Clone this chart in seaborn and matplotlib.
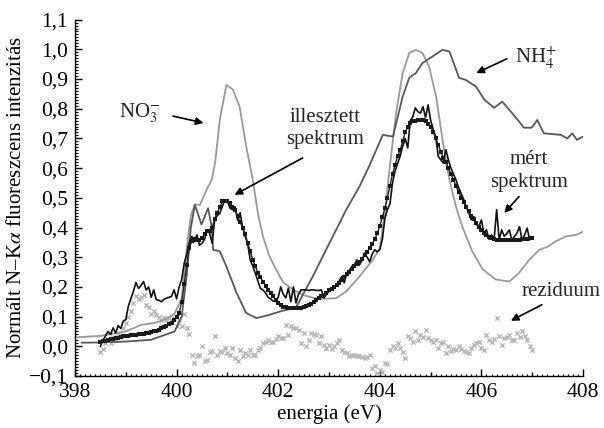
import numpy as np
import pandas as pd
import matplotlib
matplotlib.use("Agg")
import matplotlib.pyplot as plt
from matplotlib.ticker import MultipleLocator, FuncFormatter, FixedLocator, NullFormatter
import seaborn as sns

# ---------------- data ----------------
# energy grid of the measured spectrum, fit and residual (398.5 ... 407.0 eV, 0.05 eV step)
energy = np.round(np.linspace(398.5, 407.0, 171), 2)

measured = [
    0.00, 0.02, 0.035, 0.05, 0.04, 0.062, 0.045, 0.07, 0.06, 0.085,
    0.09, 0.135, 0.16, 0.185, 0.215, 0.195, 0.205, 0.218, 0.19, 0.20,
    0.165, 0.19, 0.157, 0.155, 0.150, 0.158, 0.162, 0.165, 0.168, 0.19,
    0.16, 0.20, 0.225, 0.28, 0.31, 0.35, 0.37, 0.353, 0.375, 0.34,
    0.347, 0.36, 0.392, 0.38, 0.347, 0.426, 0.44, 0.448, 0.47, 0.493,
    0.49, 0.465, 0.46, 0.47, 0.425, 0.45, 0.40, 0.37, 0.345, 0.29,
    0.27, 0.245, 0.22, 0.195, 0.19, 0.18, 0.165, 0.16, 0.152, 0.151,
    0.165, 0.20, 0.175, 0.163, 0.196, 0.15, 0.20, 0.146, 0.175, 0.19,
    0.19, 0.19, 0.188, 0.19, 0.19, 0.188, 0.188, 0.19, 0.163, 0.175,
    0.185, 0.19, 0.195, 0.207, 0.22, 0.235, 0.214, 0.247, 0.255, 0.269,
    0.275, 0.291, 0.274, 0.29, 0.314, 0.30, 0.285, 0.31, 0.325, 0.318,
    0.325, 0.36, 0.43, 0.46, 0.48, 0.55, 0.59, 0.615, 0.64, 0.673,
    0.70, 0.668, 0.76, 0.773, 0.803, 0.79, 0.785, 0.807, 0.77, 0.813,
    0.762, 0.73, 0.706, 0.64, 0.628, 0.617, 0.662, 0.628, 0.60, 0.58,
    0.56, 0.535, 0.515, 0.495, 0.47, 0.45, 0.426, 0.437, 0.41, 0.403,
    0.426, 0.38, 0.392, 0.36, 0.375, 0.36, 0.46, 0.358, 0.392, 0.37,
    0.38, 0.392, 0.358, 0.37, 0.381, 0.403, 0.358, 0.375, 0.398, 0.358,
    0.365,
]

fitted = [
    0.015, 0.017, 0.019, 0.021, 0.023, 0.025, 0.027, 0.029, 0.031, 0.033,
    0.035, 0.036, 0.037, 0.038, 0.039, 0.040, 0.041, 0.042, 0.044, 0.046,
    0.048, 0.050, 0.053, 0.056, 0.060, 0.064, 0.069, 0.074, 0.080, 0.088,
    0.098, 0.112, 0.15, 0.21, 0.275, 0.33, 0.355, 0.36, 0.358, 0.357,
    0.365, 0.378, 0.387, 0.388, 0.40, 0.43, 0.45, 0.468, 0.488, 0.49,
    0.49, 0.482, 0.47, 0.46, 0.44, 0.418, 0.40, 0.378, 0.347, 0.32,
    0.29, 0.27, 0.246, 0.232, 0.218, 0.204, 0.19, 0.18, 0.168, 0.155,
    0.145, 0.138, 0.134, 0.131, 0.129, 0.128, 0.128, 0.128, 0.129, 0.130,
    0.132, 0.135, 0.139, 0.144, 0.150, 0.156, 0.162, 0.168, 0.174, 0.181,
    0.188, 0.194, 0.200, 0.206, 0.213, 0.222, 0.232, 0.243, 0.25, 0.26,
    0.27, 0.278, 0.285, 0.295, 0.307, 0.318, 0.330, 0.345, 0.360, 0.380,
    0.405, 0.435, 0.465, 0.50, 0.54, 0.58, 0.61, 0.64, 0.66, 0.69,
    0.72, 0.738, 0.752, 0.758, 0.760, 0.762, 0.762, 0.761, 0.757, 0.750,
    0.740, 0.722, 0.700, 0.678, 0.655, 0.635, 0.620, 0.600, 0.58, 0.56,
    0.54, 0.52, 0.50, 0.485, 0.47, 0.455, 0.440, 0.428, 0.415, 0.403,
    0.392, 0.382, 0.374, 0.368, 0.363, 0.360, 0.358, 0.357, 0.357, 0.357,
    0.357, 0.357, 0.358, 0.358, 0.359, 0.359, 0.360, 0.361, 0.362, 0.363,
    0.364,
]

residual = [
    -0.02, -0.01, 0.01, 0.02, 0.01, 0.03, 0.02, 0.04, 0.03, 0.06,
    0.08, 0.10, 0.12, 0.146, 0.17, 0.16, 0.165, 0.173, 0.14, 0.134,
    0.11, 0.12, 0.105, 0.10, 0.09, 0.095, 0.09, 0.095, 0.09, 0.095,
    0.07, 0.09, 0.067, 0.11, 0.06, 0.04, -0.028, -0.056, -0.034, -0.03,
    0.0, -0.05, -0.045, -0.02, -0.017, 0.033, -0.028, -0.015, -0.02, -0.005,
    -0.022, -0.03, -0.005, -0.039, -0.051, -0.012, -0.034, -0.023, -0.028, -0.012,
    -0.028, -0.028, -0.012, -0.005, 0.011, 0.016, 0.022, 0.016, 0.016, 0.025,
    0.033, 0.028, 0.028, 0.072, 0.039, 0.067, 0.06, 0.062, 0.055, 0.011,
    0.045, 0.0, 0.02, 0.045, 0.04, 0.039, 0.01, 0.033, 0.005, -0.005,
    0.005, -0.01, 0.0, 0.01, 0.022, -0.012, -0.02, -0.023, -0.034, -0.03,
    -0.028, -0.034, -0.034, -0.036, -0.04, -0.035, -0.028, -0.073, -0.068, -0.09,
    -0.079, -0.085, -0.056, -0.06, -0.012, 0.0, -0.005, 0.01, -0.006, -0.02,
    -0.04, 0.033, 0.027, 0.015, 0.05, 0.022, 0.039, 0.03, 0.056, 0.027,
    0.02, 0.016, 0.022, -0.006, 0.01, 0.016, -0.023, 0.0, -0.015, -0.01,
    -0.012, 0.0, -0.01, -0.017, -0.02, -0.023, -0.005, 0.005, 0.01, 0.016,
    -0.005, -0.012, 0.039, 0.02, 0.016, 0.025, 0.095, 0.033, 0.005, 0.027,
    0.03, 0.039, 0.02, 0.022, 0.044, 0.03, 0.05, 0.033, 0.02, 0.0,
    -0.012,
]

# reference spectra
no3_energy = [398.0, 398.5, 399.0, 399.3, 399.57, 399.8, 399.96, 400.1, 400.2, 400.28,
              400.36, 400.46, 400.59, 400.69, 400.76, 400.85, 400.98, 401.11, 401.24, 401.37,
              401.5, 401.6, 401.7, 401.83, 401.96, 402.1, 402.3, 402.5, 402.7, 402.9,
              403.14, 403.34, 403.6, 403.86, 404.0, 404.1, 404.19, 404.32, 404.45, 404.58,
              404.71, 404.84, 404.97, 405.11, 405.23, 405.37, 405.5, 405.63, 405.82, 406.02,
              406.28, 406.55, 406.74, 406.94, 407.14, 407.3, 407.46, 407.66, 407.86, 408.0]
no3_int = [0.030, 0.035, 0.05, 0.072, 0.079, 0.092, 0.11, 0.16, 0.33, 0.44,
           0.478, 0.476, 0.527, 0.56, 0.62, 0.762, 0.88, 0.864, 0.807, 0.673,
           0.56, 0.448, 0.37, 0.302, 0.258, 0.215, 0.19, 0.172, 0.163, 0.160,
           0.162, 0.185, 0.235, 0.291, 0.33, 0.45, 0.594, 0.785, 0.92, 0.988,
           0.998, 0.988, 0.942, 0.84, 0.70, 0.56, 0.47, 0.40, 0.32, 0.26,
           0.225, 0.218, 0.247, 0.291, 0.325, 0.335, 0.353, 0.37, 0.375, 0.386]

nh4_energy = [398.13, 398.5, 399.0, 399.5, 399.96, 400.1, 400.2, 400.28, 400.36, 400.49,
              400.62, 400.69, 400.72, 400.85, 400.98, 401.18, 401.37, 401.57, 401.83, 402.03,
              402.22, 402.36, 402.68, 403.01, 403.34, 403.6, 403.8, 404.06, 404.26, 404.45,
              404.58, 404.71, 404.84, 405.03, 405.23, 405.37, 405.56, 405.69, 405.89, 406.06,
              406.25, 406.41, 406.6, 406.84, 406.99, 407.1, 407.23, 407.56, 407.69, 407.79,
              407.88, 408.0]
nh4_int = [0.012, 0.013, 0.016, 0.022, 0.05, 0.10, 0.24, 0.40, 0.476, 0.41,
           0.465, 0.403, 0.325, 0.32, 0.269, 0.18, 0.112, 0.095, 0.106, 0.117,
           0.125, 0.134, 0.235, 0.348, 0.46, 0.538, 0.61, 0.712, 0.706, 0.841,
           0.904, 0.92, 0.954, 0.975, 0.998, 0.993, 0.904, 0.897, 0.875, 0.83,
           0.803, 0.824, 0.786, 0.736, 0.736, 0.762, 0.717, 0.712, 0.70, 0.717,
           0.695, 0.706]

x_major = [398, 400, 402, 404, 406, 408]
x_mid = [399, 401, 403, 405, 407]

# ---------------- style ----------------
sns.set_style("ticks")
plt.rcParams["font.family"] = ["Liberation Serif", "DejaVu Serif"]
plt.rcParams["mathtext.fontset"] = "stix"
plt.rcParams["axes.unicode_minus"] = True

FS = 15
FS_TICK = 15.5
fig = plt.figure(figsize=(6.04, 4.28), dpi=100)
ax = fig.add_axes([75 / 604, 1 - 376 / 428, 508 / 604, 356.4 / 428])

df_meas = pd.DataFrame({"e": energy, "v": measured})
df_fit = pd.DataFrame({"e": energy, "v": fitted})
df_res = pd.DataFrame({"e": energy, "v": residual})
df_no3 = pd.DataFrame({"e": no3_energy, "v": no3_int})
df_nh4 = pd.DataFrame({"e": nh4_energy, "v": nh4_int})

sns.lineplot(data=df_no3, x="e", y="v", ax=ax, color="#9a9a9a", lw=1.3, sort=False)
sns.lineplot(data=df_nh4, x="e", y="v", ax=ax, color="#585858", lw=1.3, sort=False)
sns.scatterplot(data=df_res, x="e", y="v", ax=ax, marker="x", s=10, color="#b8b8b8",
                linewidth=1.0)
sns.lineplot(data=df_meas, x="e", y="v", ax=ax, color="#111111", lw=1.2, sort=False)
sns.lineplot(data=df_fit, x="e", y="v", ax=ax, color="#222222", lw=1.0, sort=False,
             marker="s", markersize=2.8, markeredgewidth=0, markerfacecolor="#1a1a1a")

ax.set_xlim(398, 408)
ax.set_ylim(-0.1, 1.1)

for side in ("top", "right"):
    ax.spines[side].set_visible(False)
for side in ("left", "bottom"):
    ax.spines[side].set_linewidth(1.0)
    ax.spines[side].set_color("black")

def fmt(v, pos):
    s = f"{v:.1f}".replace(".", ",")
    if s == "-0,0":
        s = "0,0"
    return s.replace("-", "\u2212")

ax.xaxis.set_major_locator(FixedLocator(x_major))
ax.xaxis.set_minor_locator(MultipleLocator(0.1))
ax.yaxis.set_major_locator(MultipleLocator(0.1))
ax.yaxis.set_minor_locator(MultipleLocator(0.01))
ax.yaxis.set_major_formatter(FuncFormatter(fmt))
ax.xaxis.set_major_formatter(FuncFormatter(lambda v, p: f"{v:.0f}"))

ax.tick_params(axis="both", which="major", direction="in", length=5, width=1,
               labelsize=FS_TICK, color="black", labelcolor="black")
ax.tick_params(axis="both", which="minor", direction="in", length=1.8, width=0.8,
               color="black")
ax.tick_params(axis="x", which="major", pad=5)
ax.tick_params(axis="y", which="major", pad=5)

sec = ax.secondary_xaxis("bottom")
sec.set_xticks(x_mid)
sec.xaxis.set_major_formatter(NullFormatter())
sec.tick_params(axis="x", which="major", direction="in", length=3, width=1, color="black")
sec.xaxis.set_minor_locator(FixedLocator([]))
sec.spines["bottom"].set_visible(False)

ax.set_xlabel("energia (eV)", fontsize=FS, color="black", labelpad=2)
ax.set_ylabel("Normált N\u2013K$\\alpha$ fluoreszcens intenzitás", fontsize=FS,
              color="black", labelpad=2)

# annotations
arrow = dict(arrowstyle="-|>", color="black", lw=1.2, mutation_scale=11,
             shrinkA=0, shrinkB=0)

ax.text(399.28, 0.786, "NO$_3^{-}$", fontsize=FS, ha="center", va="center")
ax.annotate("", xy=(400.53, 0.752), xytext=(399.93, 0.775), arrowprops=arrow)

ax.text(402.93, 0.772, "illesztett", fontsize=FS, ha="center", va="center")
ax.text(402.93, 0.695, "spektrum", fontsize=FS, ha="center", va="center")
ax.annotate("", xy=(401.14, 0.51), xytext=(402.48, 0.634), arrowprops=arrow)

ax.text(407.08, 0.971, "NH$_4^{+}$", fontsize=FS, ha="center", va="center")
ax.annotate("", xy=(405.9, 0.92), xytext=(406.5, 0.968), arrowprops=arrow)

ax.text(406.94, 0.628, "mért", fontsize=FS, ha="center", va="center")
ax.text(406.94, 0.55, "spektrum", fontsize=FS, ha="center", va="center")
ax.annotate("", xy=(406.45, 0.449), xytext=(406.74, 0.504), arrowprops=arrow)

ax.text(407.57, 0.183, "reziduum", fontsize=FS, ha="center", va="center")
ax.annotate("", xy=(406.58, 0.086), xytext=(407.19, 0.14), arrowprops=arrow)

fig.savefig("out.png", dpi=100)
